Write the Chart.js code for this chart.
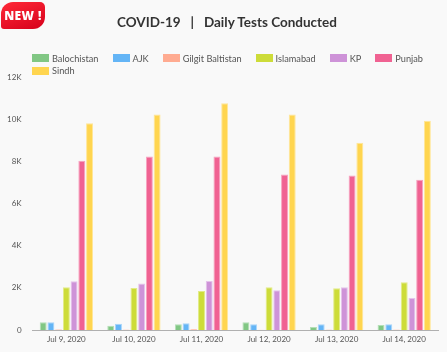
<!DOCTYPE html>
<html>
<head>
<meta charset="utf-8">
<script src="https://cdn.jsdelivr.net/npm/chart.js@4.4.0/dist/chart.umd.min.js"></script>
<style>
  html, body { margin: 0; padding: 0; background: #f9f9f9; }
  #wrap { position: relative; width: 447px; height: 352px; overflow: hidden; }
  #chart { position: absolute; left: 0; top: 0; }
  #badge {
    position: absolute; left: 1px; top: 2px; width: 44px; height: 27px;
    background: linear-gradient(160deg, #ff2a38, #d6001b);
    border-radius: 12px 5px 12px 3px;
    color: #fff; font: 900 12px "Open Sans", sans-serif;
    display: flex; align-items: center; justify-content: center; letter-spacing: 0.4px;
  }
  #title {
    position: absolute; left: 0; top: 14px; width: 454px; text-align: center;
    font: 700 13.5px Lato, sans-serif; color: #333; white-space: pre;
  }
  #legend { position: absolute; left: 32px; top: 52px; width: 410px; }
  .row { display: flex; height: 12.5px; align-items: center; }
  .item { display: flex; flex-shrink: 0; white-space: nowrap; align-items: center; font: 9.2px Lato, sans-serif; color: #555; margin-right: 14px; }
  .box { width: 17px; height: 8px; margin-right: 3px; }
</style>
</head>
<body>
<div id="wrap">
  <canvas id="chart" width="447" height="352"></canvas>
  <div id="badge">NEW !</div>
  <div id="title">COVID-19   |   Daily Tests Conducted</div>
  <div id="legend"></div>
</div>
<script>
// datos
const dates = ['Jul 9, 2020', 'Jul 10, 2020', 'Jul 11, 2020', 'Jul 12, 2020', 'Jul 13, 2020', 'Jul 14, 2020'];
const balochistan = [365, 205, 270, 365, 140, 237];
const ajk = [370, 300, 317, 270, 270, 270];
const gilgit = [30, 20, 50, 15, 25, 20];
const islamabad = [2025, 1990, 1850, 2025, 1975, 2260];
const kp = [2310, 2210, 2320, 1880, 2025, 1515];
const punjab = [8025, 8230, 8230, 7380, 7330, 7125];
const sindh = [9810, 10220, 10760, 10220, 8880, 9920];
const yTicks = [0, 2000, 4000, 6000, 8000, 10000, 12000];

const series = [
  ['Balochistan', balochistan, '#81c784', '#b4dfb6'],
  ['AJK', ajk, '#64b5f6', '#a9d5fa'],
  ['Gilgit Baltistan', gilgit, '#ffab91', '#ffcfc0'],
  ['Islamabad', islamabad, '#cddc39', '#e2eb86'],
  ['KP', kp, '#ce93d8', '#e5c3eb'],
  ['Punjab', punjab, '#f06292', '#f7a3bf'],
  ['Sindh', sindh, '#ffd54f', '#ffe699']
];

// leyenda en html: 6 en la primera fila, Sindh abajo
const legend = document.getElementById('legend');
[series.slice(0, 6), series.slice(6)].forEach(group => {
  const row = document.createElement('div');
  row.className = 'row';
  row.innerHTML = group.map(s =>
    `<div class='item'><span class='box' style='background:${s[2]}'></span>${s[0]}</div>`
  ).join('');
  legend.appendChild(row);
});

const ctx = document.getElementById('chart').getContext('2d');
new Chart(ctx, {
  type: 'bar',
  data: {
    labels: dates,
    datasets: series.map(s => ({
      label: s[0], data: s[1], backgroundColor: s[2], borderColor: s[3], borderWidth: 1
    }))
  },
  options: {
    responsive: false,
    animation: false,
    layout: { padding: { left: 4, right: 9, top: 77, bottom: 4 } },
    plugins: {
      legend: { display: false },
      tooltip: { enabled: false }
    },
    scales: {
      x: {
        grid: { display: false, drawTicks: false },
        border: { color: '#b0b0b0' },
        afterFit: axis => { axis.height = 18; },
        ticks: { color: '#555', padding: 5, maxRotation: 0, font: { family: 'Lato', size: 8 } }
      },
      y: {
        min: 0, max: 12000,
        afterBuildTicks: axis => { axis.ticks = yTicks.map(v => ({ value: v })); },
        grid: { display: false },
        border: { display: false },
        ticks: { color: '#555', font: { family: 'Lato', size: 8 }, callback: v => v === 0 ? '0' : (v / 1000) + 'K' }
      }
    }
  }
});
</script>
</body>
</html>
